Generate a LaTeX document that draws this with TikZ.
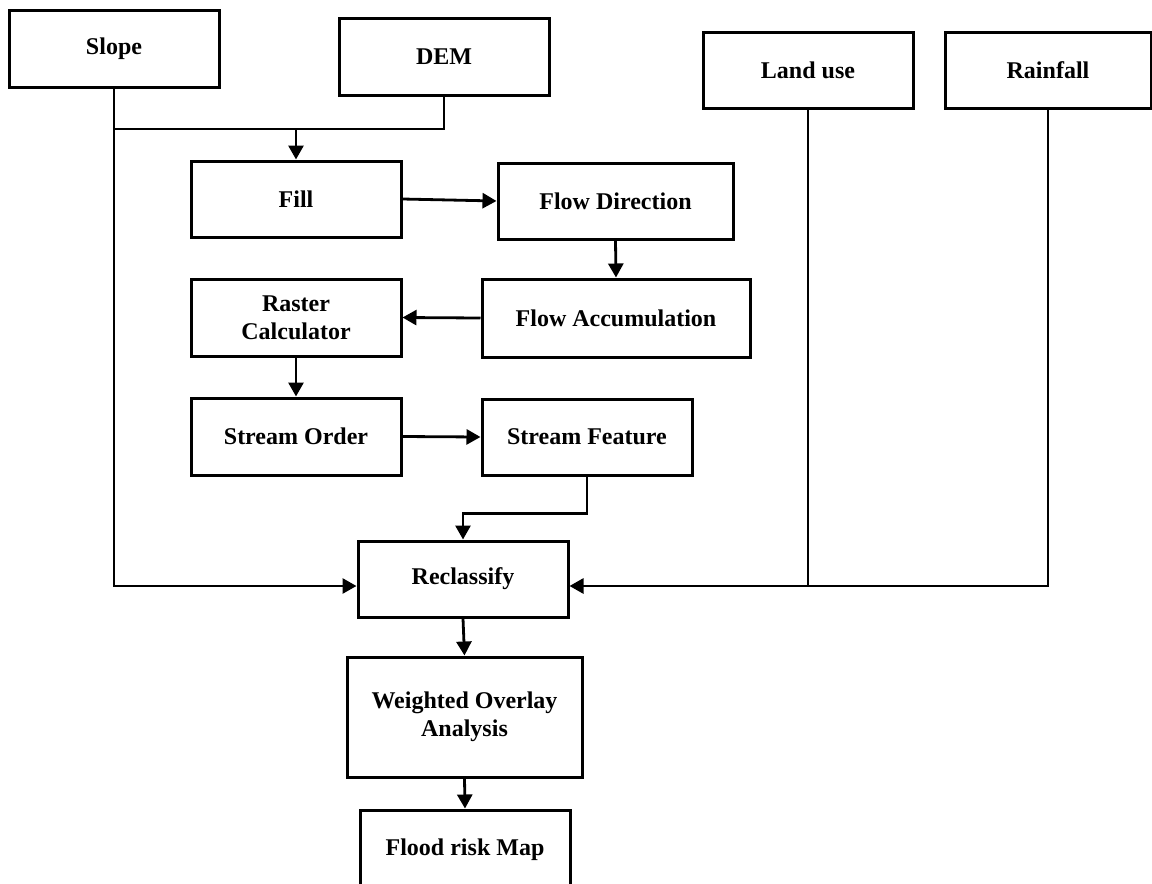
\documentclass[tikz,border=0pt]{standalone}
\usepackage{fontspec}
\setmainfont{Liberation Serif}
\usepackage{tikz}
\usetikzlibrary{arrows.meta}
\newcommand{\boxfont}{\fontsize{24}{28}\selectfont\bfseries}

\begin{document}
\begin{tikzpicture}[x=1pt, y=-1pt,
    box/.style={draw, line width=3pt, rectangle, inner sep=0pt, align=center,
        minimum width=210pt, minimum height=76pt, font=\boxfont},
    link/.style={line width=2.8pt},
    arr/.style={link, -{Triangle[length=14pt, width=15pt]}}]
    \useasboundingbox (0, 0) rectangle (1152, 884);
    % inputs
    \node[box, minimum height=77pt] (slope) at (114, 48.5) {Slope};
    \node[box, minimum height=77pt] (dem) at (444, 56.5) {DEM};
    \node[box] (land) at (808, 70) {Land use};
    \node[box, minimum width=206pt] (rain) at (1048, 70) {Rainfall};
    % hydrology steps
    \node[box] (fill) at (296, 199) {Fill};
    \node[box, minimum width=235pt] (flowdir) at (615.5, 201) {Flow Direction};
    \node[box, minimum height=77pt] (raster) at (296, 317.5) {Raster\\Calculator};
    \node[box, minimum width=268pt, minimum height=78pt] (flowacc) at (616, 318) {Flow Accumulation};
    \node[box, minimum height=77pt] (order) at (296, 436.5) {Stream Order};
    \node[box] (feature) at (587, 437) {Stream Feature};
    % overlay
    \node[box] (reclass) at (463, 579) {Reclassify};
    \node[box, minimum width=235pt, minimum height=120pt] (weighted) at (464.5, 717) {Weighted Overlay\\Analysis};
    \node[box, minimum height=80pt] (flood) at (465, 850) {Flood risk Map};

    \coordinate (join) at (296, 129);
    \coordinate (rw) at ([yshift=-7pt]reclass.west);
    \coordinate (re) at ([yshift=-7pt]reclass.east);

    \draw[link] (slope.south |- join) -- (dem.south |- join) -- (dem.south);
    \draw[arr] (join) -- (fill.north);
    \draw[arr] (slope.south) -- (slope.south |- rw) -- (rw);
    \draw[arr] (fill.east) -- (flowdir.west);
    \draw[arr] (flowdir.south) -- (flowacc.north);
    \draw[arr] (flowacc.west) -- (raster.east);
    \draw[arr] (raster.south) -- (order.north);
    \draw[arr] (order.east) -- (feature.west);
    \draw[arr] (feature.south) -- ++(0, 37) -| (reclass.north);
    \draw[link] (land.south) -- (land.south |- re);
    \draw[arr] (rain.south) -- (rain.south |- re) -- (re);
    \draw[arr] (reclass.south) -- (weighted.north);
    \draw[arr] (weighted.south) -- (flood.north);
\end{tikzpicture}
\end{document}
